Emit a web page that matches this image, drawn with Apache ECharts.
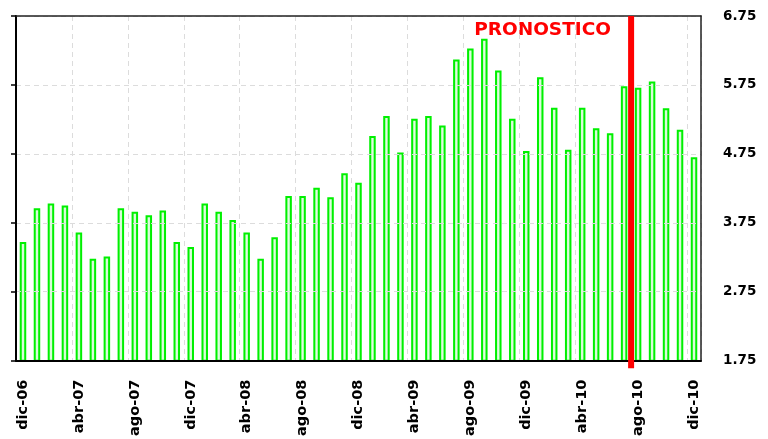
<!DOCTYPE html>
<html>
<head>
<meta charset="utf-8">
<script src="https://cdn.jsdelivr.net/npm/echarts@6/dist/echarts.min.js"></script>
<style>
  html, body { margin: 0; padding: 0; background: #fff; }
  #chart { width: 768px; height: 439px; }
</style>
</head>
<body>
<div id="chart"></div>
<script>
const months = [
  'dic-06', 'ene-07', 'feb-07', 'mar-07', 'abr-07', 'may-07', 'jun-07', 'jul-07',
  'ago-07', 'sep-07', 'oct-07', 'nov-07', 'dic-07', 'ene-08', 'feb-08', 'mar-08',
  'abr-08', 'may-08', 'jun-08', 'jul-08', 'ago-08', 'sep-08', 'oct-08', 'nov-08',
  'dic-08', 'ene-09', 'feb-09', 'mar-09', 'abr-09', 'may-09', 'jun-09', 'jul-09',
  'ago-09', 'sep-09', 'oct-09', 'nov-09', 'dic-09', 'ene-10', 'feb-10', 'mar-10',
  'abr-10', 'may-10', 'jun-10', 'jul-10', 'ago-10', 'sep-10', 'oct-10', 'nov-10',
  'dic-10'
]
const values = [
  3.47, 3.96, 4.03, 4.00, 3.61, 3.23, 3.26, 3.96,
  3.91, 3.86, 3.93, 3.47, 3.40, 4.03, 3.91, 3.79,
  3.61, 3.23, 3.54, 4.14, 4.14, 4.26, 4.12, 4.47,
  4.33, 5.01, 5.30, 4.77, 5.26, 5.30, 5.16, 6.12,
  6.28, 6.42, 5.96, 5.26, 4.79, 5.86, 5.42, 4.81,
  5.42, 5.12, 5.05, 5.73, 5.71, 5.80, 5.41, 5.10,
  4.70
]
// forecast starts at the ago-10 boundary
const forecastStart = 44
const yTicks = { min: 1.75, max: 6.75, step: 1 }

const chart = echarts.init(document.getElementById('chart'))
const labelFont = {
  fontFamily: 'DejaVu Sans',
  fontWeight: 'bold',
  fontSize: 13.5,
  color: '#000'
}
const gridLine = { show: true, lineStyle: { color: '#dcdcdc', type: [5, 4], width: 1 } }

const option = {
  animation: false,
  backgroundColor: '#fff',
  grid: { left: 16, right: 67, top: 16, bottom: 77 },
  xAxis: [
    {
      type: 'category',
      data: months,
      boundaryGap: true,
      axisLine: { lineStyle: { color: '#000', width: 2 } },
      axisTick: { interval: 3, length: 6, lineStyle: { color: '#000', width: 1.5 } },
      axisLabel: Object.assign({}, labelFont, { interval: 3, rotate: 90, margin: 19, fontSize: 14.5 }),
      splitLine: Object.assign({ interval: 3 }, gridLine),
      z: 3
    },
    {
      // top border, also used to place the forecast line at a month boundary
      type: 'value',
      position: 'top',
      min: 0,
      max: months.length,
      axisLine: { show: true, onZero: false, lineStyle: { color: '#222', width: 1.5 } },
      axisTick: { show: false },
      axisLabel: { show: false },
      splitLine: { show: false },
      z: 3
    }
  ],
  yAxis: [
    {
      type: 'value',
      position: 'left',
      min: yTicks.min,
      max: yTicks.max,
      interval: yTicks.step,
      axisLine: { show: true, lineStyle: { color: '#000', width: 2 } },
      axisTick: { show: true, length: 5, lineStyle: { color: '#000', width: 1.5 } },
      axisLabel: { show: false },
      splitLine: gridLine,
      z: 3
    },
    {
      type: 'value',
      position: 'right',
      min: yTicks.min,
      max: yTicks.max,
      interval: yTicks.step,
      axisLine: { show: true, onZero: false, lineStyle: { color: '#222', width: 1.5 } },
      axisTick: { show: false },
      splitLine: { show: false },
      axisLabel: Object.assign({ margin: 22, formatter: v => v.toFixed(2) }, labelFont),
      z: 3
    }
  ],
  series: [
    {
      type: 'bar',
      data: values,
      barWidth: 6.5,
      itemStyle: {
        color: new echarts.graphic.LinearGradient(0, 0, 1, 0, [
          { offset: 0, color: '#a6f2a6' },
          { offset: 0.5, color: '#e2fde2' },
          { offset: 1, color: '#a6f2a6' }
        ]),
        borderColor: '#00f000',
        borderWidth: 2
      }
    },
    {
      type: 'line',
      xAxisIndex: 1,
      yAxisIndex: 0,
      data: [[forecastStart, 1.64], [forecastStart, yTicks.max]],
      symbol: 'none',
      clip: false,
      lineStyle: { color: '#ff0000', width: 6 },
      z: 5
    }
  ],
  graphic: [
    {
      type: 'text',
      x: 611,
      y: 30,
      style: {
        text: 'PRONOSTICO',
        fill: '#ff0000',
        font: 'bold 18.5px "DejaVu Sans"',
        textAlign: 'right',
        textVerticalAlign: 'middle'
      }
    }
  ]
}
chart.setOption(option)
</script>
</body>
</html>
